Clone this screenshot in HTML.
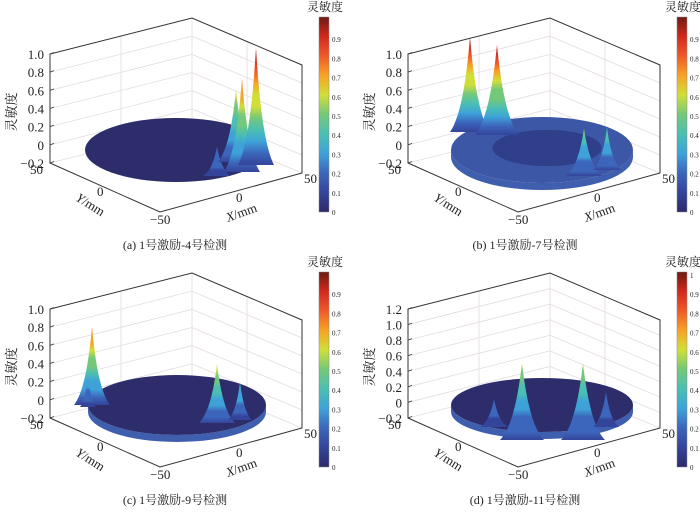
<!DOCTYPE html>
<html><head><meta charset="utf-8"><style>
body{margin:0;background:#fff;}
svg text{font-family:"Liberation Serif","Noto Serif CJK SC",serif;fill:#222;}
</style></head><body>
<svg id="fig" width="700" height="510" viewBox="0 0 700 510" xmlns="http://www.w3.org/2000/svg">
<defs id="defs"></defs>
</svg>
<script>
// jet-like colormap of the colorbar
const cmapStops = [0,0.1,0.2,0.3,0.4,0.5,0.6,0.7,0.8,0.9,1.0];
const cmapColors = ["#2e2a6b","#34449a","#3c66bb","#3ea2d9","#4bbfb3","#74c87a","#d0df38","#f7a325","#ef5a2a","#d2281d","#6e1a14"];
// panels
const captions = ["(a) 1号激励-4号检测","(b) 1号激励-7号检测","(c) 1号激励-9号检测","(d) 1号激励-11号检测"];
const zTicksA = ["1.0","0.8","0.6","0.4","0.2","0","−0.2"];
const zTicksD = ["1.2","1.0","0.8","0.6","0.4","0.2","0","−0.2"];
const cbTicks9 = ["0","0.1","0.2","0.3","0.4","0.5","0.6","0.7","0.8","0.9"];
const cbTicks10 = ["0","0.1","0.2","0.3","0.4","0.5","0.6","0.7","0.8","0.9","1"];
// peak sensitivity values per panel
const peaksA = [0.25, 0.62, 0.8, 1.0];
const peaksB = [1.0, 0.95, 0.5, 0.45];
const peaksC = [0.82, 0.35, 0.62, 0.4];
const peaksD = [0.2, 0.55, 0.55, 0.25];

const NS="http://www.w3.org/2000/svg";
const svg=document.getElementById('fig');
const defs=document.getElementById('defs');
function mk(tag,attrs,parent){const e=document.createElementNS(NS,tag);for(const k in attrs)e.setAttribute(k,attrs[k]);(parent||svg).appendChild(e);return e;}
function colorAt(v){v=Math.max(0,Math.min(1,v));for(let i=1;i<cmapStops.length;i++){if(v<=cmapStops[i]){return cmapColors[i-1+(v-cmapStops[i-1]>(cmapStops[i]-v)?1:0)];}}return cmapColors[cmapColors.length-1];}
let gid=0;
function peakGrad(v){const id='pg'+(gid++);const g=mk('linearGradient',{id:id,x1:0,y1:1,x2:0,y2:0},defs);
 const n=10;for(let i=0;i<=n;i++){const f=i/n;mk('stop',{offset:f,'stop-color':colorAt(0.12+(v-0.12)*f)},g);}return id;}

// layout (non-data) per panel
const panels=[
 {ox:0,oy:0,sx:0,zt:zTicksA,cb:cbTicks9,cbMax:1.0,peaks:peaksA,pos:[[217,176,14],[236,162,18],[242,172,18],[256,165,18]],k:117,skirt:false,disk:"#2d2d6c",ell:[176,150,91,32]},
 {ox:350,oy:0,sx:8,zt:zTicksA,cb:cbTicks9,cbMax:1.0,peaks:peaksB,pos:[[112,132,20],[139,135,22],[226,176,18],[249,170,14]],k:95,skirt:true,disk:"#3b57a6",ell:[184,150,91,33]},
 {ox:0,oy:255,sx:0,zt:zTicksA,cb:cbTicks9,cbMax:1.0,peaks:peaksC,pos:[[92,150,18],[88,152,8],[217,168,18],[240,165,12]],k:95,skirt:true,disk:"#2d2d6c",ell:[177,150,89,30]},
 {ox:350,oy:255,sx:8,zt:zTicksD,cb:cbTicks10,cbMax:1.0,peaks:peaksD,pos:[[136,172,14],[164,185,22],[225,185,22],[248,172,13]],k:140,skirt:true,disk:"#2d2d6c",ell:[184,150,91,27]}
];
const letters=['a','b','c','d'];

panels.forEach((p,pi)=>{
 const g=mk('g',{transform:`translate(${p.ox+p.sx},${p.oy})`});
 
 
 const nt=p.zt.length;
 for(let i=0;i<nt;i++){
  const f=i/(nt-1);const yl=54+f*109, yb=18+f*109, yr=65+f*108;
  mk('line',{x1:50,y1:yl,x2:192,y2:yb,stroke:'#e3dbe0','stroke-width':0.8},g);
  mk('line',{x1:192,y1:yb,x2:302,y2:yr,stroke:'#e3dbe0','stroke-width':0.8},g);
  const t=mk('text',{x:44,y:yl+5,'text-anchor':'end','font-size':13},g);t.textContent=p.zt[i];
  
  mk('line',{x1:50,y1:yl,x2:54,y2:yl-1.5,stroke:'#333','stroke-width':0.8},g);
 }
 mk('line',{x1:121,y1:36,x2:121,y2:145,stroke:'#e3dbe0','stroke-width':0.8},g);
 mk('line',{x1:247,y1:41,x2:247,y2:150,stroke:'#e3dbe0','stroke-width':0.8},g);
 mk('line',{x1:192,y1:18,x2:192,y2:127,stroke:'#e3dbe0','stroke-width':0.8},g);
 const box=mk('path',{d:`M50,163 L50,54 L192,18 L302,65 L302,173 L160,212 Z`,fill:'none',stroke:'#333','stroke-width':1},g);
 
 const [cx,cy,rx,ry]=p.ell;
 if(p.skirt){const sk=mk('path',{d:`M${cx-rx},${cy} A${rx},${ry} 0 0 0 ${cx+rx},${cy} L${cx+rx},${cy+7} A${rx},${ry} 0 0 1 ${cx-rx},${cy+7} Z`,fill:'#3f5fae'},g);
  }
 const d=mk('ellipse',{cx:cx,cy:cy,rx:rx,ry:ry,fill:p.disk},g);
 
 if(p.disk!=="#2d2d6c")mk('ellipse',{cx:cx+5,cy:cy-2,rx:rx*0.6,ry:ry*0.55,fill:'#2d3a82',opacity:0.8},g);
 p.peaks.forEach((v,i)=>{
  const [x,base,w]=p.pos[i];const top=base-v*p.k;const h=base-top;
  const id=peakGrad(v);
  const pk=mk('path',{d:`M${x-w},${base} C${x-w*0.5},${base-h*0.15} ${x-w*0.2},${base-h*0.5} ${x},${top} C${x+w*0.2},${base-h*0.5} ${x+w*0.5},${base-h*0.15} ${x+w},${base} Z`,fill:`url(#${id})`},g);
  
 });
 const tl=[[30,174,"50"],[97,196,"0"],[150,224,"−50"],[236,202,"0"],[304,183,"50"]];
 tl.forEach(a=>{const t=mk('text',{x:a[0],y:a[1],'font-size':13},g);t.textContent=a[2];});
 const yl=mk('text',{x:75,y:200,'font-size':13,transform:'rotate(32 75 200)'},g);yl.innerHTML='<tspan font-style="italic">Y</tspan>/mm';
 
 const xl=mk('text',{x:228,y:222,'font-size':13,transform:'rotate(-20 228 222)'},g);xl.innerHTML='<tspan font-style="italic">X</tspan>/mm';
 
 const zl=mk('text',{x:16,y:112,'font-size':13,'text-anchor':'middle',transform:'rotate(-90 16 112)'},g);zl.textContent='灵敏度';
 
 const cid='cb'+pi;const cg=mk('linearGradient',{id:cid,x1:0,y1:1,x2:0,y2:0},defs);
 cmapStops.forEach((s,i)=>mk('stop',{offset:s,'stop-color':cmapColors[i]},cg));
 const cb=mk('rect',{x:319,y:17,width:10,height:195,fill:`url(#${cid})`,stroke:'#888','stroke-width':0.5},g);
 
 p.cb.forEach((s,i)=>{const v=parseFloat(s);const y=212-v/p.cbMax*192;
  const t=mk('text',{x:332,y:y+3,'font-size':7,fill:'#555'},g);t.textContent=s;
  });
 const ct=mk('text',{x:325,y:11,'font-size':12,'text-anchor':'middle'},g);ct.textContent='灵敏度';
 
 const cap=mk('text',{x:175-p.sx,y:249,'font-size':12,'text-anchor':'middle'},g);cap.textContent=captions[pi];
 
});
</script>
</body></html>
